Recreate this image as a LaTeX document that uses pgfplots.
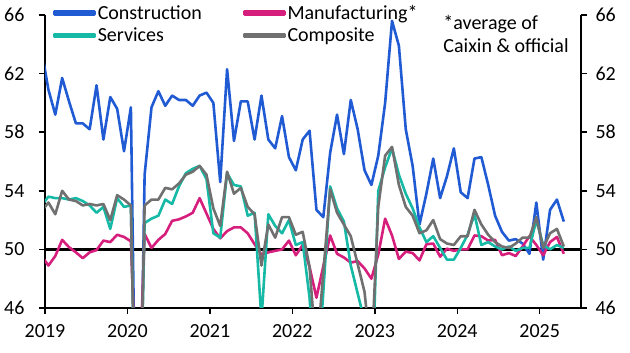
\documentclass[border=0pt]{standalone}
\usepackage{fontspec}
\setmainfont{Carlito}
\usepackage{pgfplots}
\usepackage{pgfplotstable}
\pgfplotsset{compat=1.18}
\definecolor{cblue}{RGB}{33,91,212}
\definecolor{cmag}{RGB}{214,30,125}
\definecolor{cteal}{RGB}{22,185,165}
\definecolor{cgray}{RGB}{112,112,112}

% t = month index (0 = Dec 2018, 1 = Jan 2019, ...)
\pgfplotstableread{
t con man ser com
0 63.6 49.55 53.0 52.6
1 60.9 48.9 53.6 53.2
2 59.2 49.55 53.5 52.4
3 61.7 50.65 53.5 54.0
4 60.1 50.15 53.4 53.4
5 58.6 49.8 53.5 53.3
6 58.6 49.4 53.3 53.0
7 58.2 49.8 53.0 53.1
8 61.2 49.95 52.5 53.0
9 57.5 50.6 52.9 53.1
10 60.4 50.5 51.4 52.0
11 59.6 51.0 53.5 53.7
12 56.7 50.85 52.9 53.4
13 59.7 50.55 53.0 53.0
14 26.6 38.0 30.1 28.9
15 55.1 51.05 51.8 53.0
16 59.7 50.1 52.1 53.4
17 60.8 50.65 52.3 53.4
18 59.8 51.05 53.4 54.2
19 60.5 51.95 53.1 54.1
20 60.2 52.05 54.3 54.5
21 60.2 52.25 55.2 55.1
22 59.8 52.5 55.5 55.3
23 60.5 53.5 55.7 55.7
24 60.7 52.45 54.8 55.1
25 60.0 51.4 51.1 52.8
26 54.6 50.75 50.8 51.6
27 62.3 51.25 55.2 55.3
28 57.4 51.5 54.4 53.8
29 60.1 51.5 54.3 54.2
30 60.1 51.1 52.3 52.9
31 57.5 50.35 52.5 52.4
32 60.5 49.65 45.2 48.9
33 57.5 49.8 52.4 51.7
34 56.9 49.9 51.6 50.8
35 59.1 50.0 51.1 52.2
36 56.3 50.6 52.0 52.2
37 55.4 49.6 50.3 51.0
38 57.5 50.3 50.5 51.2
39 58.1 48.8 46.7 48.8
40 52.7 46.7 40.0 42.7
41 52.2 48.85 47.1 48.4
42 56.6 50.95 54.3 54.1
43 59.2 49.7 52.8 52.5
44 56.5 49.45 51.9 51.7
45 60.2 49.1 48.9 50.9
46 58.2 49.2 47.0 49.0
47 55.4 48.7 45.1 47.1
48 54.4 48.0 39.4 42.6
49 56.4 49.65 54.0 52.9
50 60.0 52.1 55.6 56.4
51 65.6 50.95 56.9 57.0
52 63.9 49.35 55.1 54.4
53 58.2 49.85 53.8 52.9
54 55.7 49.75 52.8 52.3
55 51.7 49.25 51.5 51.1
56 53.8 50.35 50.5 51.3
57 56.2 50.4 50.9 52.0
58 53.5 49.5 50.1 50.7
59 55.0 50.05 49.3 50.4
60 56.9 49.9 49.3 50.3
61 53.9 50.0 50.1 50.9
62 53.5 50.0 51.0 50.9
63 56.2 50.95 52.4 52.7
64 56.3 50.9 50.3 51.7
65 54.4 50.6 50.5 51.0
66 52.3 50.65 50.2 50.5
67 51.2 49.6 50.0 50.2
68 50.6 49.75 50.2 50.1
69 50.7 49.55 49.9 50.4
70 50.4 50.2 50.1 50.8
71 49.7 50.9 50.1 50.8
72 53.2 50.3 52.0 52.2
73 49.3 49.6 50.3 50.1
74 52.7 50.5 50.0 51.1
75 53.4 50.85 50.3 51.4
76 51.9 49.7 50.1 50.2
}\pmidata

\pgfplotsset{
  common/.style={
    width=536pt, height=293pt, scale only axis,
    xmin=2019, xmax=2025.5, ymin=46, ymax=66,
    ytick={46,50,...,66},
    tick style={black, line width=1.5pt},
    axis line style={black, line width=2.5pt},
    major tick length=6pt,
    tick align=outside,
    /pgf/number format/assume math mode=true,
    /pgf/number format/1000 sep={},
    ticklabel style={font=\fontsize{20}{24}\selectfont},
  },
  ser/.style={line width=2.6pt, line join=round, no markers},
}

\begin{document}
\begin{tikzpicture}
\begin{axis}[common, name=ax,
  axis x line*=bottom, axis y line*=left,
  xtick={2019,...,2025},
  yticklabel style={xshift=-11pt},
  xticklabel style={yshift=-7pt},
  legend columns=2,
  legend cell align=left,
  legend image code/.code={\fill[#1] (0pt,-1.5pt) rectangle (40pt,1.5pt);},
  legend style={draw=none, fill=none, at={(0,1)}, anchor=north west,
    xshift=8pt, yshift=12pt, inner sep=0pt, row sep=3pt,
    font=\fontsize{20}{23.5}\selectfont,
    /tikz/every odd column/.append style={column sep=0pt},
    /tikz/every even column/.append style={column sep=39pt}},
]
\draw[black, line width=2.5pt] (axis cs:2019,50) -- (axis cs:2025.5,50);
\addplot[ser, cblue] table[x expr={2019+(\thisrow{t}-0.5)/12}, y=con] {\pmidata};
\addlegendentry{Construction}
\addplot[ser, cmag] table[x expr={2019+(\thisrow{t}-0.5)/12}, y=man] {\pmidata};
\addlegendentry{Manufacturing*}
\addplot[ser, cteal] table[x expr={2019+(\thisrow{t}-0.5)/12}, y=ser] {\pmidata};
\addlegendentry{Services}
\addplot[ser, cgray] table[x expr={2019+(\thisrow{t}-0.5)/12}, y=com] {\pmidata};
\addlegendentry{Composite}
\node[anchor=base west, inner sep=0pt, font=\fontsize{20}{24}\selectfont] at (rel axis cs:0.743,0.9488) {*average of};
\node[anchor=base west, inner sep=0pt, font=\fontsize{20}{24}\selectfont] at (rel axis cs:0.743,0.8703) {Caixin \& official};
\end{axis}
\begin{axis}[common, axis x line=none, axis y line*=right, yticklabel style={xshift=5pt}]
\end{axis}
\pgfresetboundingbox
\path ([xshift=-45pt,yshift=-45pt]ax.south west) rectangle ([xshift=49pt,yshift=15pt]ax.north east);
\end{tikzpicture}
\end{document}
